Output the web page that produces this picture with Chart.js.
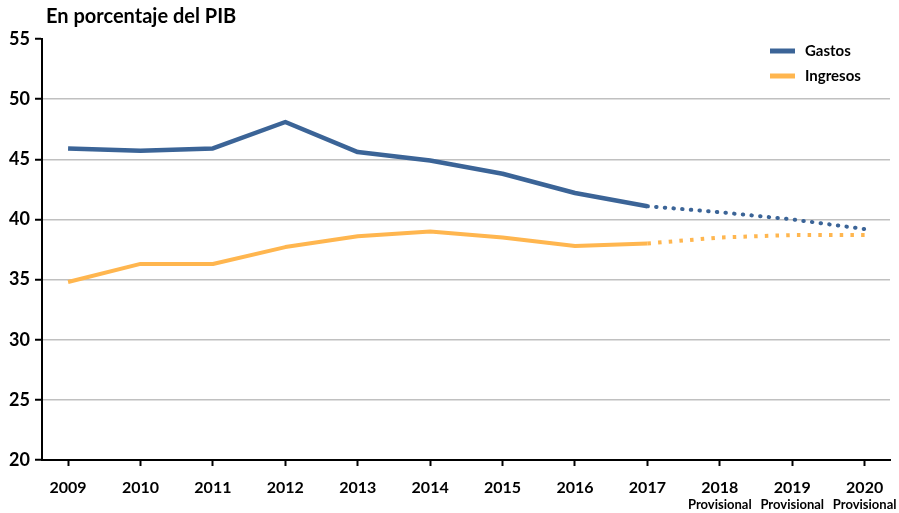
<!DOCTYPE html>
<html>
<head>
<meta charset="utf-8">
<script src="https://cdn.jsdelivr.net/npm/chart.js@4/dist/chart.umd.min.js"></script>
<style>
  html, body { margin: 0; padding: 0; background: #fff; }
  #wrap { width: 899px; height: 513px; }
</style>
</head>
<body>
<div id="wrap"><canvas id="fiscalChart" width="899" height="513"></canvas></div>
<script>
// Data
const years = [2009, 2010, 2011, 2012, 2013, 2014, 2015, 2016, 2017, 2018, 2019, 2020];
const provisionalYears = [2018, 2019, 2020];
const gastos = [45.9, 45.7, 45.9, 48.1, 45.6, 44.9, 43.8, 42.2, 41.1, 40.6, 40.0, 39.2];
const ingresos = [34.8, 36.3, 36.3, 37.7, 38.6, 39.0, 38.5, 37.8, 38.0, 38.5, 38.7, 38.7];
const yTicks = [20, 25, 30, 35, 40, 45, 50, 55];
const seriesNames = ["Gastos", "Ingresos"];
const titleText = "En porcentaje del PIB";
const provisionalText = "Provisional";

const BLUE = "#3b6497";
const ORANGE = "#ffb64f";
const FONT = "Lato, 'Open Sans', sans-serif";
const lastActual = years.indexOf(2017);

const toPoints = vals => vals.map((v, i) => ({ x: years[i], y: v }));

// ---------------- TITLE, LEGEND, PROVISIONAL LABELS ----------------

const extras = {
    id: "extras",
    afterDraw(chart) {
        const ctx = chart.ctx;
        const area = chart.chartArea;
        const xScale = chart.scales.x;

        ctx.save();
        ctx.fillStyle = "#000";
        ctx.textBaseline = "middle";

        ctx.font = "bold 20px " + FONT;
        ctx.textAlign = "left";
        ctx.fillText(titleText, 46, 17);

        // legend
        chart.data.datasets.forEach((ds, i) => {
            const y = 51 + i * 25;
            ctx.strokeStyle = ds.borderColor;
            ctx.lineWidth = 5;
            ctx.lineCap = "butt";
            ctx.beginPath();
            ctx.moveTo(area.right - 120, y);
            ctx.lineTo(area.right - 95, y);
            ctx.stroke();
            ctx.font = "bold 15px " + FONT;
            ctx.fillText(ds.label, area.right - 85, y);
        });

        // "Provisional" under the forecast years
        ctx.font = "bold 13px " + FONT;
        ctx.textAlign = "center";
        provisionalYears.forEach(yr => {
            ctx.fillText(provisionalText, xScale.getPixelForValue(yr), 505);
        });

        ctx.restore();
    }
};

// ---------------- LINE CHART ----------------

new Chart(document.getElementById("fiscalChart"), {
    type: "line",

    data: {
        datasets: [
            {
                label: seriesNames[0],
                data: toPoints(gastos),
                borderColor: BLUE,
                borderWidth: 4.5,
                borderJoinStyle: "round",
                pointRadius: 0,
                segment: {
                    borderDash: c => c.p0DataIndex >= lastActual ? [0.5, 8.2] : undefined,
                    borderCapStyle: c => c.p0DataIndex >= lastActual ? "round" : "butt",
                    borderWidth: c => c.p0DataIndex >= lastActual ? 4 : 4.5
                }
            },
            {
                label: seriesNames[1],
                data: toPoints(ingresos),
                borderColor: ORANGE,
                borderWidth: 4,
                borderJoinStyle: "round",
                pointRadius: 0,
                segment: {
                    borderDash: c => c.p0DataIndex >= lastActual ? [3.5, 7.2] : undefined
                }
            }
        ]
    },

    options: {
        responsive: false,
        animation: false,
        layout: {
            padding: { top: 39, right: 9, left: 0, bottom: 0 }
        },
        plugins: {
            legend: { display: false },
            title: { display: false },
            tooltip: { enabled: false }
        },
        scales: {
            x: {
                type: "linear",
                min: 2008.64,
                max: 2020.35,
                afterBuildTicks: scale => {
                    scale.ticks = years.map(v => ({ value: v }));
                },
                afterFit: scale => { scale.height = 53; },
                border: { color: "#000", width: 2 },
                grid: {
                    drawOnChartArea: false,
                    drawTicks: true,
                    tickLength: 6,
                    tickColor: "#000",
                    tickWidth: 2
                },
                ticks: {
                    padding: 12,
                    color: "#000",
                    font: { family: FONT, size: 16, weight: "bold" },
                    maxRotation: 0,
                    autoSkip: false,
                    callback: v => String(v)
                }
            },
            y: {
                min: 20,
                max: 55,
                afterBuildTicks: scale => {
                    scale.ticks = yTicks.map(v => ({ value: v }));
                },
                afterFit: scale => { scale.width = 42; },
                border: { color: "#000", width: 2 },
                grid: {
                    color: c => (c.tick && (c.tick.value === 55 || c.tick.value === 20)) ? "rgba(0,0,0,0)" : "#c0c0c0",
                    lineWidth: 1.5,
                    tickColor: "#000",
                    tickLength: 7,
                    tickWidth: 2
                },
                ticks: {
                    padding: 5,
                    color: "#000",
                    font: { family: FONT, size: 18, weight: "bold" }
                }
            }
        }
    },

    plugins: [extras]
});
</script>
</body>
</html>
